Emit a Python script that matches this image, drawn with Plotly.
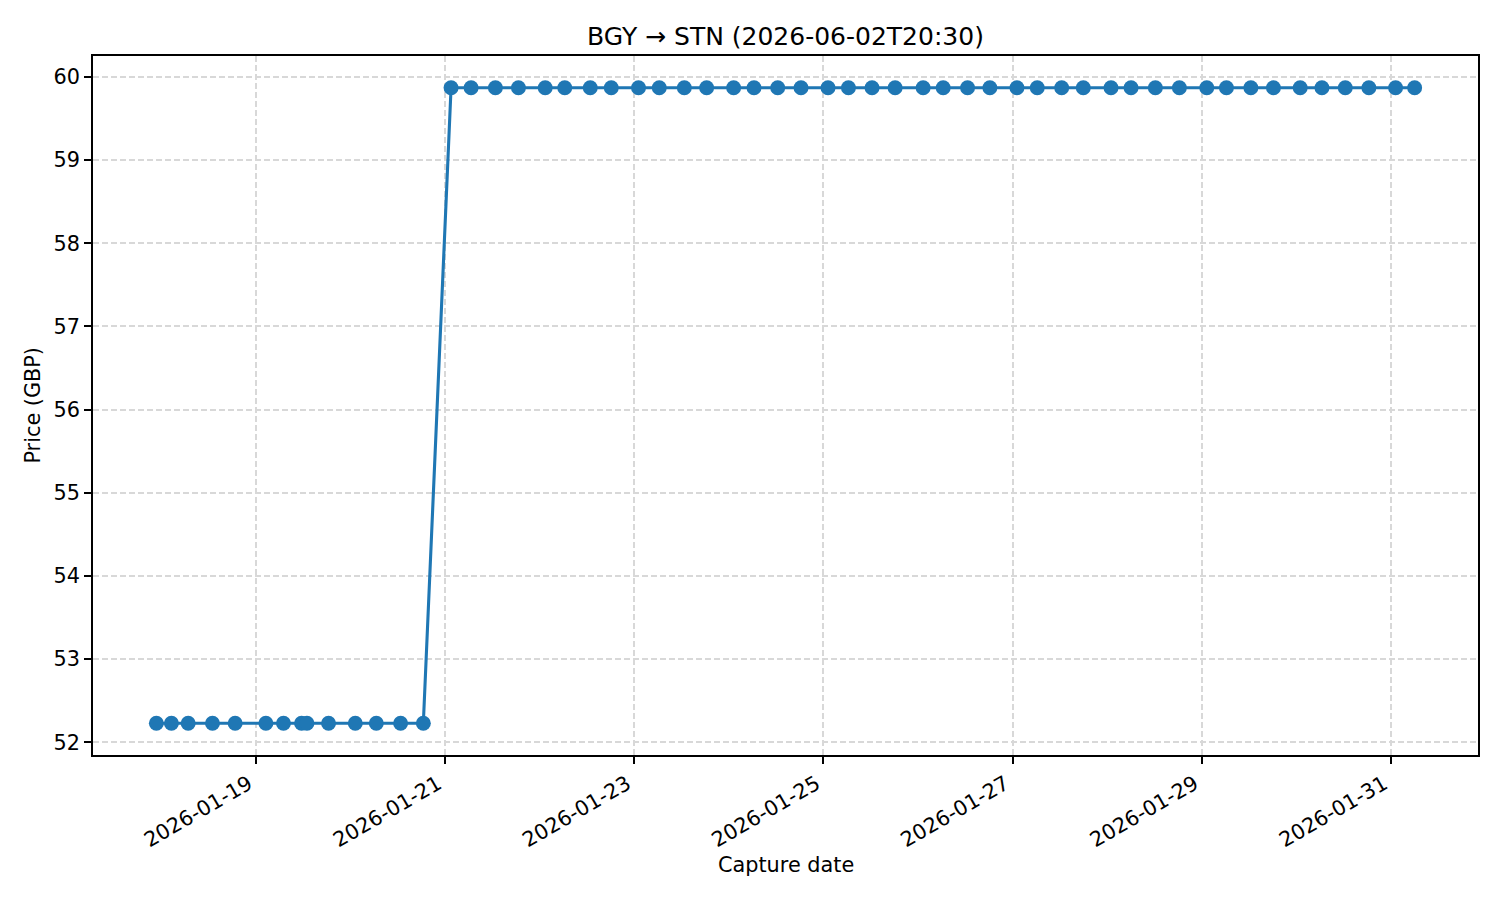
import plotly.graph_objects as go

# ---- data ----
capture_times = [
    "2026-01-17 22:45", "2026-01-18 02:34", "2026-01-18 06:49", "2026-01-18 12:59",
    "2026-01-18 18:44", "2026-01-19 02:32", "2026-01-19 07:00", "2026-01-19 11:35",
    "2026-01-19 12:57", "2026-01-19 18:26", "2026-01-20 01:13", "2026-01-20 06:33",
    "2026-01-20 12:43", "2026-01-20 18:29",
    "2026-01-21 01:31", "2026-01-21 06:36", "2026-01-21 12:46", "2026-01-21 18:37",
    "2026-01-22 01:24", "2026-01-22 06:22", "2026-01-22 12:50", "2026-01-22 18:10",
    "2026-01-23 01:05", "2026-01-23 06:21", "2026-01-23 12:42", "2026-01-23 18:22",
    "2026-01-24 01:13", "2026-01-24 06:23", "2026-01-24 12:24", "2026-01-24 18:19",
    "2026-01-25 01:10", "2026-01-25 06:21", "2026-01-25 12:20", "2026-01-25 18:11",
    "2026-01-26 01:18", "2026-01-26 06:23", "2026-01-26 12:34", "2026-01-26 18:14",
    "2026-01-27 01:06", "2026-01-27 06:15", "2026-01-27 12:27", "2026-01-27 17:56",
    "2026-01-28 00:58", "2026-01-28 06:03", "2026-01-28 12:13", "2026-01-28 18:19",
    "2026-01-29 01:16", "2026-01-29 06:15", "2026-01-29 12:27", "2026-01-29 18:11",
    "2026-01-30 00:58", "2026-01-30 06:29", "2026-01-30 12:24", "2026-01-30 18:24",
    "2026-01-31 01:10", "2026-01-31 06:00",
]
prices_gbp = [52.23] * 14 + [59.87] * 42

x_tick_values = ["2026-01-19", "2026-01-21", "2026-01-23", "2026-01-25",
                 "2026-01-27", "2026-01-29", "2026-01-31"]
y_tick_values = [52, 53, 54, 55, 56, 57, 58, 59, 60]

title_text = "BGY \u2192 STN (2026-06-02T20:30)"
x_label = "Capture date"
y_label = "Price (GBP)"

# ---- styling ----
BLUE = "#1f77b4"
FONT = "DejaVu Sans"
GRID = "#d8d8d8"
W, H = 1492, 892  # page body adds an 8px offset

fig = go.Figure()
fig.add_trace(go.Scatter(
    x=capture_times, y=prices_gbp, mode="lines+markers",
    line=dict(color=BLUE, width=3.1),
    marker=dict(color=BLUE, size=15, line=dict(width=0)),
    showlegend=False,
))

axis_common = dict(
    showline=True, mirror=True, linecolor="black", linewidth=1.6,
    ticks="outside", ticklen=7, tickwidth=1.6, tickcolor="black",
    showgrid=True, gridcolor=GRID, gridwidth=1.6, griddash="6px,3px",
    zeroline=False,
    tickfont=dict(family=FONT, size=20.8, color="black"),
)

fig.update_xaxes(
    type="date",
    range=["2026-01-17 06:40", "2026-01-31 22:05"],
    tickmode="array", tickvals=x_tick_values, ticktext=x_tick_values,
    tickangle=-30, ticklabelshift=-7,
    **axis_common,
)
fig.update_yaxes(
    range=[51.848, 60.252],
    tickmode="array", tickvals=y_tick_values,
    ticktext=[str(v) for v in y_tick_values],
    **axis_common,
)

fig.update_layout(
    width=W, height=H,
    margin=dict(l=85, r=22, t=48, b=145, pad=0),
    paper_bgcolor="white", plot_bgcolor="white",
    font=dict(family=FONT, color="black"),
    title=dict(text=title_text, x=(93 + 1478) / 2 / W - 8 / W, xanchor="center",
               y=1 - 28 / H, yanchor="middle", yref="container",
               font=dict(family=FONT, size=25, color="black")),
    annotations=[
        dict(text=x_label, xref="paper", yref="paper", x=0.5, y=-0.157,
             xanchor="center", yanchor="middle", showarrow=False,
             font=dict(family=FONT, size=20.8, color="black")),
        dict(text=y_label, xref="paper", yref="paper", x=-0.044, y=0.5,
             xanchor="center", yanchor="middle", showarrow=False, textangle=-90,
             font=dict(family=FONT, size=20.8, color="black")),
    ],
)

fig.write_html("out.html")
